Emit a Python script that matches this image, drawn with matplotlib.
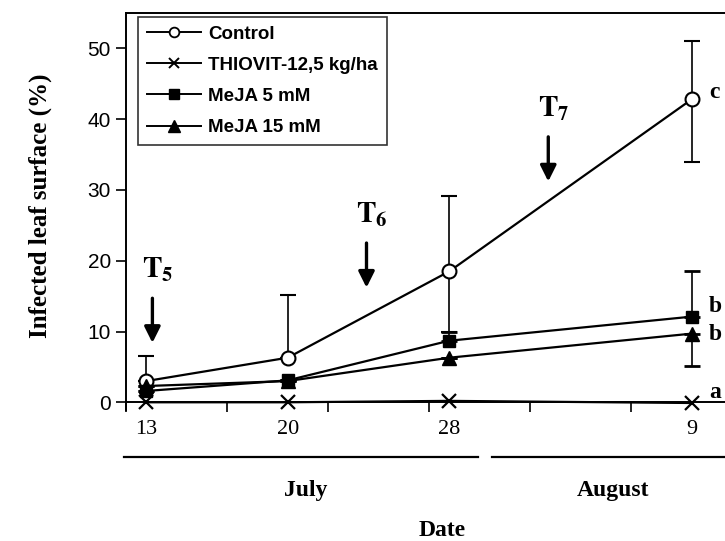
import matplotlib
matplotlib.use("Agg")
import matplotlib.pyplot as plt
import matplotlib.transforms as mtransforms
from matplotlib.lines import Line2D

# days counted from 1 July (9 August -> 40)
days = [13, 20, 28, 40]
day_labels = ["13", "20", "28", "9"]

control = [3.0, 6.3, 18.5, 42.8]
control_up = [3.6, 8.8, 10.6, 8.3]
control_lo = [0, 0, 8.5, 8.9]
thiovit = [0.0, 0.0, 0.2, -0.1]
meja5 = [1.6, 3.1, 8.7, 12.1]
meja5_up = [0, 0, 1.3, 6.5]
meja15 = [2.3, 3.0, 6.3, 9.7]
meja15_lo = [0, 0, 0, 4.6]

letters = ["c", "b", "b", "a"]
letter_y = [43.8, 13.6, 9.6, 1.4]

treat_subs = ["5", "6", "7"]
treat_days = [13.3, 23.9, 32.9]
treat_top = [14.7, 22.5, 37.5]

serif = ["Liberation Serif", "DejaVu Serif"]
sans = ["Liberation Sans", "DejaVu Sans"]
plt.rcParams["mathtext.fontset"] = "stix"

fig = plt.figure(figsize=(7.25, 5.41), dpi=100)
ax = fig.add_axes([0.174, 0.242, 0.826, 0.734])

lw = 1.6
ax.errorbar(days, control, yerr=[control_lo, control_up], color="black", lw=lw,
            marker="o", ms=10, mfc="white", mec="black", mew=1.5,
            elinewidth=1.2, capsize=5.5, capthick=2, zorder=3)
ax.plot(days, thiovit, color="black", lw=lw, marker="x", ms=10, mew=1.6, zorder=3)
ax.errorbar(days, meja5, yerr=[[0] * 4, meja5_up], color="black", lw=lw,
            marker="s", ms=9, elinewidth=1.2, capsize=5.5, capthick=2, zorder=4)
ax.errorbar(days, meja15, yerr=[meja15_lo, [0] * 4], color="black", lw=lw,
            marker="^", ms=10, elinewidth=1.2, capsize=5.5, capthick=2, zorder=4)

ax.set_xlim(12, 41.65)
ax.set_ylim(-1.1, 55)
ax.spines["right"].set_visible(False)
ax.spines["bottom"].set_position(("data", 0))
for s in ["left", "bottom", "top"]:
    ax.spines[s].set_linewidth(1.4)

ax.set_yticks([0, 10, 20, 30, 40, 50])
ax.set_yticklabels(["0", "10", "20", "30", "40", "50"], family=sans, fontsize=15)
ax.tick_params(axis="y", direction="out", length=7, width=1.2, pad=4)

ax.set_xticks([12, 17, 22, 27, 32, 37])
ax.set_xticklabels([])
ax.tick_params(axis="x", direction="out", length=7, width=1.2)
for d, lab in zip(days, day_labels):
    ax.text(d, -3.9, lab, ha="center", va="center", family=serif, fontsize=16)

# letters of significance
for t, y in zip(letters, letter_y):
    ax.text(40.85, y, t, ha="left", va="center", family=serif,
            fontweight="bold", fontsize=17)

# treatment arrows
for sub, d, top in zip(treat_subs, treat_days, treat_top):
    ax.annotate("", xy=(d, top - 6.3), xytext=(d, top),
                arrowprops=dict(arrowstyle="-|>", lw=2.4, color="black",
                                mutation_scale=24, shrinkA=0, shrinkB=0))
    ax.text(d + 0.25, top + 4.0, r"$\mathbf{T_%s}$" % sub, ha="center", va="center",
            fontsize=21)

# months under the axis
trans = mtransforms.blended_transform_factory(ax.transData, fig.transFigure)
ax.plot([11.9, 29.4], [0.155, 0.155], color="black", lw=1.6, transform=trans, clip_on=False)
ax.plot([30.1, 43], [0.155, 0.155], color="black", lw=1.6, transform=trans, clip_on=False)
ax.text(20.9, 0.094, "July", transform=trans, ha="center", va="center",
        family=serif, fontweight="bold", fontsize=17)
ax.text(36.1, 0.094, "August", transform=trans, ha="center", va="center",
        family=serif, fontweight="bold", fontsize=17)
fig.text(0.61, 0.02, "Date", ha="center", va="center",
         family=serif, fontweight="bold", fontsize=17)
fig.text(0.055, 0.62, "Infected leaf surface (%)", rotation=90, ha="center",
         va="center", family=serif, fontweight="bold", fontsize=18)

handles = [
    Line2D([], [], color="black", lw=1.4, marker="o", ms=7, mfc="white", mew=1.3),
    Line2D([], [], color="black", lw=1.4, marker="x", ms=7, mew=1.4),
    Line2D([], [], color="black", lw=1.4, marker="s", ms=7),
    Line2D([], [], color="black", lw=1.4, marker="^", ms=8),
]
names = ["Control", "THIOVIT-12,5 kg/ha", "MeJA 5 mM", "MeJA 15 mM"]
leg = ax.legend(handles, names, loc="upper left", bbox_to_anchor=(0.02, 0.99),
                borderaxespad=0, frameon=True, fancybox=False, edgecolor="black",
                handlelength=2.9, handletextpad=0.4, labelspacing=0.75,
                borderpad=0.45, prop={"family": sans, "weight": "bold", "size": 13.5})
leg.get_frame().set_linewidth(1.2)

plt.savefig("out.png", dpi=100)
